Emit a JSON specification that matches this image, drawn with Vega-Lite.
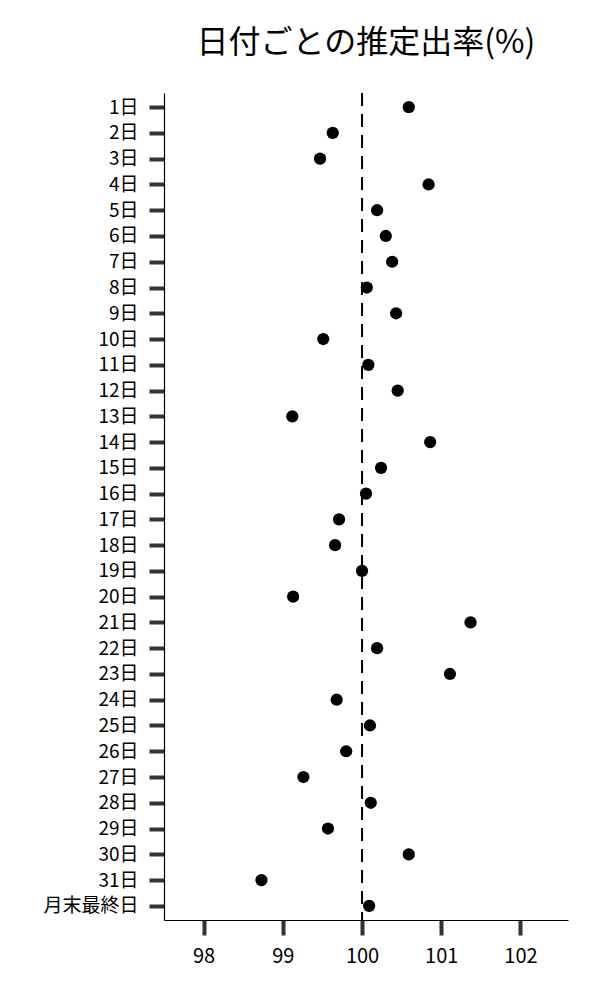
{
  "$schema": "https://vega.github.io/schema/vega-lite/v6.json",
  "width": 404,
  "height": 827,
  "autosize": {"type": "none"},
  "padding": {"left": 164, "top": 93, "right": 32, "bottom": 80},
  "title": {"text": "日付ごとの推定出率(%)", "fontSize": 32, "font": "Noto Sans CJK JP", "fontWeight": "normal", "color": "#000", "offset": 32, "anchor": "middle"},
  "config": {"view": {"stroke": null}, "font": "Noto Sans CJK JP"},
  "data": {"values": [
    {"day": "1日", "rate": 100.59},
    {"day": "2日", "rate": 99.63},
    {"day": "3日", "rate": 99.47},
    {"day": "4日", "rate": 100.84},
    {"day": "5日", "rate": 100.19},
    {"day": "6日", "rate": 100.30},
    {"day": "7日", "rate": 100.38},
    {"day": "8日", "rate": 100.06},
    {"day": "9日", "rate": 100.43},
    {"day": "10日", "rate": 99.51},
    {"day": "11日", "rate": 100.08},
    {"day": "12日", "rate": 100.45},
    {"day": "13日", "rate": 99.12},
    {"day": "14日", "rate": 100.86},
    {"day": "15日", "rate": 100.24},
    {"day": "16日", "rate": 100.05},
    {"day": "17日", "rate": 99.71},
    {"day": "18日", "rate": 99.66},
    {"day": "19日", "rate": 100.0},
    {"day": "20日", "rate": 99.13},
    {"day": "21日", "rate": 101.37},
    {"day": "22日", "rate": 100.19},
    {"day": "23日", "rate": 101.11},
    {"day": "24日", "rate": 99.68},
    {"day": "25日", "rate": 100.10},
    {"day": "26日", "rate": 99.80},
    {"day": "27日", "rate": 99.26},
    {"day": "28日", "rate": 100.11},
    {"day": "29日", "rate": 99.57},
    {"day": "30日", "rate": 100.59},
    {"day": "31日", "rate": 98.73},
    {"day": "月末最終日", "rate": 100.09}
  ]},
  "layer": [
    {
      "mark": {"type": "rule", "strokeDash": [13, 8], "color": "#000", "strokeWidth": 2},
      "data": {"values": [{"ref": 100}]},
      "encoding": {"x": {"field": "ref", "type": "quantitative"}}
    },
    {
      "mark": {"type": "circle", "size": 150, "color": "#000", "opacity": 1},
      "encoding": {
        "y": {
          "field": "day", "type": "ordinal", "sort": null,
          "scale": {"type": "point", "padding": 0.55},
          "axis": {"title": null, "domainColor": "#000", "domainWidth": 1.2, "tickColor": "#333", "tickWidth": 4, "tickSize": 15, "labelFontSize": 19, "labelFontWeight": "normal", "labelColor": "#000", "labelPadding": 11, "labelFont": "Noto Sans CJK JP"}
        },
        "x": {
          "field": "rate", "type": "quantitative",
          "scale": {"domain": [97.5, 102.6], "nice": false, "zero": false},
          "axis": {"title": null, "values": [98, 99, 100, 101, 102], "format": "d", "grid": false, "domainColor": "#000", "domainWidth": 1.2, "tickColor": "#333", "tickWidth": 4, "tickSize": 15, "labelFontSize": 20, "labelFontWeight": "normal", "labelColor": "#000", "labelPadding": 11, "labelFont": "Noto Sans CJK JP"}
        }
      }
    }
  ]
}
